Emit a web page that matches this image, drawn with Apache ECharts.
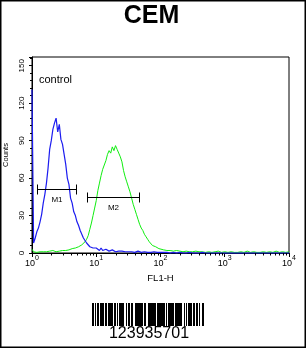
<!DOCTYPE html>
<html>
<head>
<meta charset="utf-8">
<style>
  html, body { margin: 0; padding: 0; background: #fff; }
  #chart { width: 306px; height: 349px; }
</style>
<script src="https://cdn.jsdelivr.net/npm/echarts@6/dist/echarts.min.js"></script>
</head>
<body>
<div id="chart"></div>
<script>
// ---- data ----
const titleText = 'CEM';
const barcodeText = '123935701';
const xAxisName = 'FL1-H';
const yAxisName = 'Counts';
const controlLabel = 'control';

// FL1-H channel positions (log scale, 1 .. 10^4)
const fl1Bins = [
  1, 1.059, 1.122, 1.189, 1.259, 1.334, 1.413, 1.496, 1.585, 1.679,
  1.778, 1.884, 1.995, 2.113, 2.239, 2.371, 2.512, 2.661, 2.818, 2.985,
  3.162, 3.350, 3.548, 3.758, 3.981, 4.217, 4.467, 4.732, 5.012, 5.309,
  5.623, 5.957, 6.310, 6.683, 7.079, 7.499, 7.943, 8.414, 8.913, 9.441,
  10, 10.59, 11.22, 11.89, 12.59, 13.34, 14.13, 14.96, 15.85, 16.79,
  17.78, 18.84, 19.95, 21.13, 22.39, 23.71, 25.12, 26.61, 28.18, 29.85,
  31.62, 33.50, 35.48, 37.58, 39.81, 42.17, 44.67, 47.32, 50.12, 53.09,
  56.23, 59.57, 63.10, 66.83, 70.79, 74.99, 79.43, 84.14, 89.13, 94.41,
  100,
  112.2, 125.9, 141.3, 158.5, 177.8, 199.5, 223.9, 251.2, 281.8, 316.2,
  354.8, 398.1, 446.7, 501.2, 562.3, 631.0, 707.9, 794.3, 891.3,
  1000, 1122, 1259, 1413, 1585, 1778, 1995, 2239, 2512, 2818,
  3162, 3548, 3981, 4467, 5012, 5623, 6310, 7079, 7943, 8913,
  10000
];

// control (blue) counts
const controlCounts = [
  131, 8, 12, 17, 20, 25, 31, 40, 47, 56,
  68, 83, 90, 99, 104, 108, 97, 103, 91, 87,
  79, 71, 60, 55, 44, 40, 33, 30, 25, 22,
  18, 15, 12, 10, 8, 7, 5, 5, 4, 3,
  4, 3, 2, 4, 2, 2, 3, 2, 1.5, 2,
  2.5, 1.5, 1, 2, 1.5, 1, 1.5, 1, 1, 1.5,
  1, 0.5, 1, 1, 0.5, 1, 1.5, 1, 0.5, 1,
  1, 0.5, 0.5, 1, 0.5, 0.5, 1, 0.5, 0.5, 0.5,
  0.5,
  0.5, 0.5, 0, 0.5, 0, 0.5, 0, 0, 0.5, 0,
  0, 0, 0.5, 0, 0, 0, 0, 0, 0,
  0, 0, 0, 0, 0, 0, 0, 0, 0, 0,
  0, 0, 0, 0, 0, 0, 0, 0, 0, 0,
  0
];

// sample (green) counts
const sampleCounts = [
  3, 1, 1, 0.5, 1, 1, 0.5, 1, 1.5, 1,
  1, 1.5, 1, 2, 1.5, 1, 2, 1.5, 2, 2,
  2.5, 2, 3, 2.5, 3, 3.5, 3, 4, 4, 5,
  5.5, 6.5, 7, 9, 11, 14, 19, 24, 30, 36,
  42, 50, 56, 62, 67, 66, 74, 79, 82, 80,
  85, 82, 86, 83, 80, 77, 73, 66, 61, 57,
  53, 49, 44, 39, 35, 31, 27, 23, 20, 18,
  15, 13, 11, 9, 8, 6, 5.5, 5, 4, 3.5,
  3,
  2.5, 2, 2, 1.5, 2, 1.5, 1, 1.5, 1, 1,
  1.5, 1, 1, 0.5, 1, 0.5, 1, 1.5, 0.5,
  1, 0.5, 1, 0.5, 0.5, 1, 0.5, 1.5, 0.5, 1,
  0.5, 0.5, 1, 0.5, 1, 0.5, 1.5, 0.5, 1, 0.5,
  1
];

// gate markers
const gateNames = ['M1', 'M2'];
const gateStart = [1.2, 7.2];
const gateEnd = [4.84, 46];
const gateLevel = [51, 45];

// axis ticks
const yTickValues = [0, 30, 60, 90, 120, 150];
const xMinorTicks = [
  2, 3, 4, 5, 6, 7, 8, 9,
  20, 30, 40, 50, 60, 70, 80, 90,
  200, 300, 400, 500, 600, 700, 800, 900,
  2000, 3000, 4000, 5000, 6000, 7000, 8000, 9000
];

// barcode module widths (bar, space, bar, ...)
const barcodePattern = '3121312122312132311221332131321121312232113131123131212231322131322112311131321233';

// ---- chart ----
const chart = echarts.init(document.getElementById('chart'), null, { renderer: 'canvas' });

const FONT = "'Liberation Sans', Arial, Helvetica, sans-serif";
const gridRect = { left: 32, top: 57, right: 17, bottom: 96 };

function pairs(xs, ys) { return xs.map((x, i) => [x, ys[i]]); }

// barcode graphic
const barcodeChildren = [];
(function () {
  const widths = barcodePattern.split('').map(Number);
  const total = widths.reduce((a, b) => a + b, 0);
  const scale = 114 / total;
  const x0 = 92;
  let acc = 0;
  widths.forEach((w, i) => {
    const a = Math.round(x0 + acc * scale);
    acc += w;
    const b = Math.max(a + 1, Math.round(x0 + acc * scale));
    if (i % 2 === 0) {
      barcodeChildren.push({ type: 'rect', shape: { x: a, y: 303, width: b - a, height: 23 }, style: { fill: '#000' } });
    }
  });
})();

const option = {
  animation: false,
  backgroundColor: '#fff',
  grid: Object.assign({ show: true, borderColor: '#000', borderWidth: 1, backgroundColor: 'transparent', z: 0, containLabel: false, outerBoundsMode: 'none' }, gridRect),
  xAxis: {
    type: 'log',
    logBase: 10,
    min: 1,
    max: 10000,
    z: 0,
    name: xAxisName,
    nameLocation: 'middle',
    nameGap: 13,
    nameTextStyle: { fontSize: 9.5, color: '#000', fontFamily: FONT },
    axisLine: { show: true, lineStyle: { color: '#000', width: 1 } },
    axisTick: { show: true, length: 4, inside: false, lineStyle: { color: '#000' } },
    splitLine: { show: false },
    axisLabel: {
      margin: 2,
      color: '#000',
      fontFamily: FONT,
      formatter: function (v) {
        const e = Math.round(Math.log10(v));
        return '{b|10}{s|' + e + '}';
      },
      rich: {
        b: { fontSize: 9, lineHeight: 13, verticalAlign: 'bottom', fontFamily: FONT, color: '#000' },
        s: { fontSize: 7, lineHeight: 13, verticalAlign: 'top', fontFamily: FONT, color: '#000' }
      }
    }
  },
  yAxis: {
    type: 'value',
    min: 0,
    max: 157,
    interval: 30,
    z: 0,
    name: yAxisName,
    nameLocation: 'middle',
    nameGap: 18,
    nameRotate: 90,
    nameTextStyle: { fontSize: 7.5, color: '#000', fontFamily: FONT },
    axisLine: { show: true, lineStyle: { color: '#000', width: 1 } },
    axisTick: { show: true, length: 3, inside: false, lineStyle: { color: '#000' } },
    minorTick: { show: true, splitNumber: 5, length: 2, lineStyle: { color: '#000' } },
    splitLine: { show: false },
    axisLabel: {
      rotate: 90,
      margin: 6,
      fontSize: 8,
      color: '#000',
      fontFamily: FONT,
      showMaxLabel: false,
      formatter: function (v) { return yTickValues.indexOf(v) >= 0 ? String(v) : ''; }
    }
  },
  series: [
    {
      name: 'sample',
      type: 'line',
      data: pairs(fl1Bins, sampleCounts),
      showSymbol: false,
      clip: false,
      lineStyle: { color: '#10ee10', width: 1 },
      itemStyle: { color: '#10ee10' },
      z: 3
    },
    {
      name: 'control',
      type: 'line',
      data: pairs(fl1Bins, controlCounts),
      showSymbol: false,
      clip: false,
      lineStyle: { color: '#1c1cf0', width: 1.2 },
      itemStyle: { color: '#1c1cf0' },
      z: 4
    },
    {
      name: 'minorTicksX',
      type: 'custom',
      silent: true,
      clip: false,
      data: xMinorTicks.map(v => [v, 0]),
      encode: { x: 0, y: 1 },
      renderItem: function (params, api) {
        const p = api.coord([api.value(0), 0]);
        const x = Math.round(p[0]) + 0.5;
        return { type: 'line', shape: { x1: x, y1: p[1], x2: x, y2: p[1] + 2.5 }, style: { stroke: '#000', lineWidth: 1 } };
      },
      z: 5
    },
    {
      name: 'gates',
      type: 'custom',
      silent: true,
      clip: false,
      data: gateNames.map((n, i) => [gateStart[i], gateEnd[i], gateLevel[i]]),
      encode: { x: [0, 1], y: 2 },
      renderItem: function (params, api) {
        const p1 = api.coord([api.value(0), api.value(2)]);
        const p2 = api.coord([api.value(1), api.value(2)]);
        const y = Math.round(p1[1]) + 0.5;
        const x1 = Math.round(p1[0]) + 0.5, x2 = Math.round(p2[0]) + 0.5;
        const st = { stroke: '#000', lineWidth: 1 };
        return {
          type: 'group',
          children: [
            { type: 'line', shape: { x1: x1, y1: y, x2: x2, y2: y }, style: st },
            { type: 'line', shape: { x1: x1, y1: y - 5, x2: x1, y2: y + 5 }, style: st },
            { type: 'line', shape: { x1: x2, y1: y - 5, x2: x2, y2: y + 5 }, style: st },
            { type: 'text', style: { text: gateNames[params.dataIndex], x: (x1 + x2) / 2, y: y + 6, align: 'center', verticalAlign: 'top', fontSize: 8, fontFamily: FONT, fill: '#000' } }
          ]
        };
      },
      z: 6
    }
  ],
  graphic: [
    { type: 'rect', shape: { x: 0.75, y: 0.75, width: 304.5, height: 346.5 }, style: { fill: 'none', stroke: '#000', lineWidth: 1.5 }, z: 10 },
    { type: 'text', x: 151.5, y: 16.5, style: { text: titleText, fontSize: 25, fontWeight: 'bold', fontFamily: FONT, fill: '#000', align: 'center', verticalAlign: 'middle' } },
    { type: 'text', x: 39, y: 80, style: { text: controlLabel, fontSize: 11, fontFamily: FONT, fill: '#000', align: 'left', verticalAlign: 'middle' } },
    { type: 'group', children: barcodeChildren },
    { type: 'text', x: 149, y: 334, style: { text: barcodeText, fontSize: 16, fontFamily: FONT, fill: '#000', align: 'center', verticalAlign: 'middle' } }
  ]
};

chart.setOption(option);
</script>
</body>
</html>
